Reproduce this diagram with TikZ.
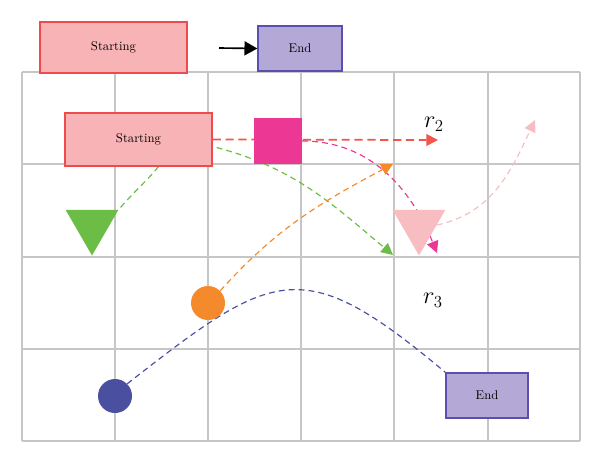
\documentclass[tikz,border=0pt]{standalone}
\usepackage{tikz}
\usetikzlibrary{
  shapes.geometric, arrows.meta, positioning, calc, backgrounds
}
\usepackage{xcolor}
\definecolor{startfill}{HTML}{F7B3B6}
\definecolor{startline}{HTML}{EE4C4C}
\definecolor{endfill}{HTML}{B4A9D6}
\definecolor{endline}{HTML}{5A4FAE}
\definecolor{gridgray}{HTML}{C6C6C6}
\definecolor{routered}{HTML}{F0564A}
\definecolor{routemag}{HTML}{EC3894}
\definecolor{routegreen}{HTML}{6CBD45}
\definecolor{routepink}{HTML}{F7BDC0}
\definecolor{routeorange}{HTML}{F58A2C}
\definecolor{routeblue}{HTML}{4A4FA0}

\begin{document}
\begin{tikzpicture}[
  x=0.03cm, y=0.03cm,
  gridline/.style={draw=gridgray, line width=1.2pt},
  startbox/.style={rectangle, fill=startfill, draw=startline, line width=1.1pt,
                   minimum width=4.41cm, inner sep=0pt, font=\fontsize{10.8}{13}\selectfont},
  endbox/.style={rectangle, fill=endfill, draw=endline, line width=1.1pt,
                 inner sep=0pt, font=\fontsize{10.8}{13}\selectfont},
  tri/.style={regular polygon, regular polygon sides=3, shape border rotate=180,
              minimum size=1.83cm, inner sep=0pt},
  dot/.style={circle, minimum size=1.02cm, inner sep=0pt},
  route/.style={line width=1pt, dash pattern=on 5pt off 3.5pt},
  routetip/.style={-{Triangle[length=10pt, width=10pt]}},
]
  \useasboundingbox (0,0) rectangle (600,-464);

  % grid
  \begin{scope}[on background layer]
    \foreach \gx in {22,115,208,301,394,488,580}
      \draw[gridline] (\gx,-72) -- (\gx,-441);
    \foreach \gy in {72,164,257,349,441}
      \draw[gridline] (22,-\gy) -- (580,-\gy);
  \end{scope}

  \node[startbox, minimum height=1.53cm] (topstart) at (113.5,-47.5) {Starting};
  \node[endbox, minimum width=2.52cm, minimum height=1.35cm] (topend) at (300,-48.5) {End};
  \node[startbox, minimum height=1.59cm] (start) at (138.5,-139.5) {Starting};
  \node[fill=routemag, minimum width=1.44cm, minimum height=1.38cm, inner sep=0pt] (block) at (278,-141) {};
  \node[tri, fill=routegreen] (greentri) at (92,-225) {};
  \node[tri, fill=routepink] (pinktri) at (419,-225) {};
  \node[dot, fill=routeorange] (orangedot) at (208,-303) {};
  \node[dot, fill=routeblue] (bluedot) at (115,-396) {};
  \node[endbox, minimum width=2.46cm, minimum height=1.35cm] (end) at (487,-395.5) {End};

  \node[font=\huge] (rtwo) at (434,-124) {$r_2$};
  \node[font=\huge] (rthree) at (433,-300) {$r_3$};

  \coordinate (arrowtail) at (219,-48);
  \coordinate (redtip) at (438,-140);
  \coordinate (greentip) at (393,-255);
  \coordinate (magtip) at (437,-253);
  \coordinate (orangetip) at (393,-164);
  \coordinate (pinktip) at (535,-120);

  \draw[-{Triangle[length=11pt, width=12pt]}, line width=1.4pt] (arrowtail) -- (topend.west);

  % routes
  \begin{scope}[on background layer]
    \draw[route, routetip, routered, line width=1.5pt, dash pattern=on 7pt off 4pt] (start.east) -- (redtip);
    \draw[route, routegreen] ($(start.south)+(20,0)$) to[out=-130, in=50] (greentri.corner 2);
    \draw[route, routetip, routegreen] ($(start.east)+(4,-8)$) to[out=-15, in=140] (greentip);
    \draw[route, routetip, routemag] (block.east) to[out=0, in=112] (magtip);
    \draw[route, routetip, routeorange] (orangedot.45) to[out=48, in=208] (orangetip);
    \draw[route, routetip, routepink] (pinktri.east) to[out=12, in=245] (pinktip);
    \draw[route, routeblue] (bluedot.45) to[out=38, in=140, looseness=1.5] (end.north west);
  \end{scope}

\end{tikzpicture}
\end{document}
